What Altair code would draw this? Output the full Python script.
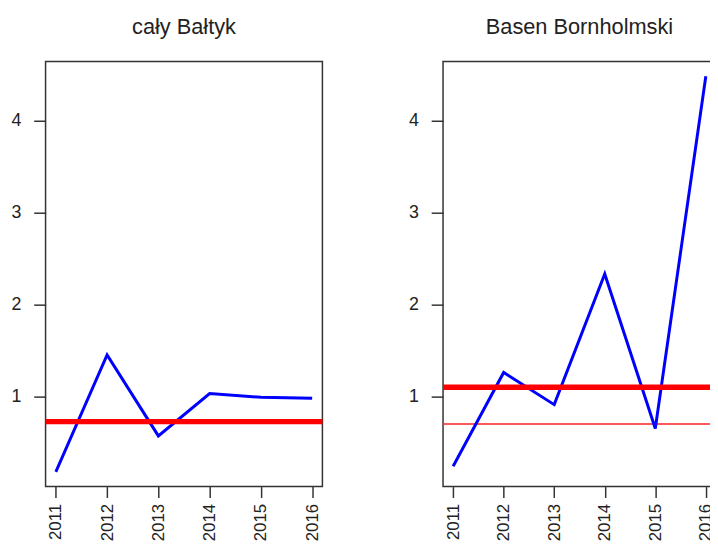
import altair as alt
import pandas as pd

years = [2011, 2012, 2013, 2014, 2015, 2016]
baltyk = [0.18, 1.45, 0.57, 1.03, 0.99, 0.98]
baltyk_mean = [0.725]
bornholm = [0.24, 1.26, 0.91, 2.33, 0.65, 4.48]
bornholm_mean = [1.10]
bornholm_ref = [0.70]
titles = ["cały Bałtyk", "Basen Bornholmski"]
y_ticks = [1, 2, 3, 4]

FONT = "Liberation Sans"
XDOM = [2010.8, 2016.2]
YDOM = [0.019, 4.641]


def panel(title, values, thick, thin=None, width=280):
    df = pd.DataFrame({"year": years, "v": values})
    x = alt.X("year:Q", scale=alt.Scale(domain=XDOM, nice=False, zero=False),
              axis=alt.Axis(values=years, format="d", title=None, grid=False, domain=False,
                            labelAngle=270, labelAlign="right", labelBaseline="middle",
                            labelFontSize=17, labelFont=FONT, labelColor="#222",
                            tickSize=11, tickWidth=1.5, tickColor="#333", labelPadding=6))
    y = alt.Y("v:Q", scale=alt.Scale(domain=YDOM, nice=False, zero=False),
              axis=alt.Axis(values=y_ticks, format="d", title=None, grid=False, domain=False,
                            labelFontSize=18, labelFont=FONT, labelColor="#222",
                            tickSize=12, tickWidth=1.5, tickColor="#333", labelPadding=13))
    line = alt.Chart(df).mark_line(color="#0000FF", strokeWidth=3).encode(x=x, y=y)
    layers = []
    if thin is not None:
        layers.append(alt.Chart(pd.DataFrame({"v": thin})).mark_rule(
            color="#FF2020", strokeWidth=1.5).encode(y=alt.Y("v:Q", scale=alt.Scale(domain=YDOM))))
    layers.append(line)
    layers.append(alt.Chart(pd.DataFrame({"v": thick})).mark_rule(
        color="#FF0000", strokeWidth=5.5).encode(y=alt.Y("v:Q", scale=alt.Scale(domain=YDOM))))
    return alt.layer(*layers).properties(
        width=width, height=430,
        title=alt.TitleParams(title, fontSize=22, font=FONT, fontWeight="normal",
                              color="#222", anchor="middle", offset=23),
    )


left = panel(titles[0], baltyk, baltyk_mean)
right = panel(titles[1], bornholm, bornholm_mean, bornholm_ref, width=276)

chart = alt.hconcat(left, right, spacing=82).properties(
    padding={"left": 2, "top": 4, "right": -10, "bottom": -2}
).configure(
    background="white",
    view=alt.ViewConfig(stroke="#333", strokeWidth=1.5),
)

chart.save("out.html", embed_options={"renderer": "svg", "actions": False})
